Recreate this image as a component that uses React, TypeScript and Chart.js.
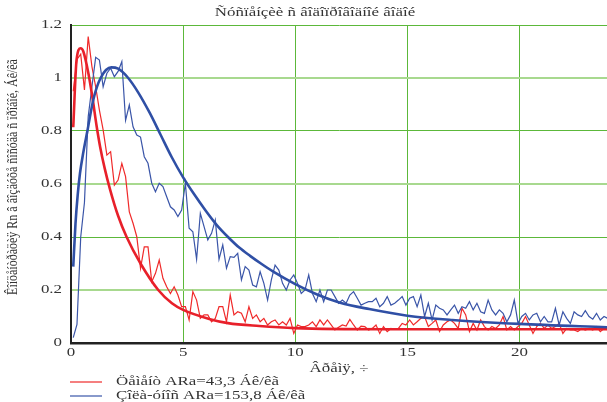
import React, { useEffect, useRef } from "react";
import { Chart, registerables } from "chart.js";

Chart.register(...registerables);

const TITLE = "Ñóñïåíçèè ñ âîäîïðîâîäíîé âîäîé";
const X_TITLE = "Âðåìÿ, ÷";
const Y_TITLE = "Êîíöåíòðàöèÿ Rn â âîçäóõå ñîñóäà ñ ïðîáîé, Áê/êã";
const LEGEND_RED = "Öåìåíò ARa=43,3 Áê/êã";
const LEGEND_BLUE = "Çîëà-óíîñ ARa=153,8 Áê/êã";

const X_TICKS = [0, 5, 10, 15, 20];
const Y_TICKS = [0, 0.2, 0.4, 0.6, 0.8, 1, 1.2];

// measured series, sampled every 10 min starting at T0 (hours)
const T0 = 0.1;
const STEP = 1 / 6;

const RED_MEAS = [
  0.95, 1.07, 1.09, 0.955, 1.156, 1.043, 0.967, 0.879, 0.804, 0.709,
  0.722, 0.596, 0.615, 0.678, 0.628, 0.495, 0.452, 0.401, 0.282, 0.363,
  0.363, 0.231, 0.263, 0.313, 0.244, 0.212, 0.187, 0.212, 0.181, 0.137,
  0.137, 0.087, 0.194, 0.162, 0.093, 0.106, 0.106, 0.08, 0.093, 0.137,
  0.137, 0.08, 0.181, 0.106, 0.118, 0.112, 0.08, 0.137, 0.093, 0.106,
  0.08, 0.093, 0.068, 0.08, 0.087, 0.068, 0.08, 0.068, 0.093, 0.036,
  0.068, 0.062, 0.062, 0.068, 0.08, 0.062, 0.087, 0.068, 0.087, 0.068,
  0.049, 0.059, 0.068, 0.064, 0.089, 0.068, 0.049, 0.064, 0.062, 0.049,
  0.055, 0.068, 0.036, 0.062, 0.043, 0.055, 0.052, 0.055, 0.074, 0.068,
  0.087, 0.068, 0.08, 0.093, 0.1, 0.062, 0.074, 0.087, 0.043, 0.068,
  0.08, 0.087, 0.074, 0.055, 0.131, 0.106, 0.043, 0.074, 0.049, 0.087,
  0.062, 0.049, 0.062, 0.055, 0.068, 0.1, 0.049, 0.062, 0.049, 0.062,
  0.074, 0.1, 0.068, 0.036, 0.062, 0.074, 0.055, 0.068, 0.055, 0.062,
  0.074, 0.036, 0.055, 0.049, 0.049, 0.043, 0.055, 0.049, 0.055, 0.049,
  0.062, 0.043, 0.055, 0.049,
];

const BLUE_MEAS = [
  0.02, 0.07, 0.4, 0.53, 0.854, 0.967, 1.078, 1.068, 0.967, 1.018,
  1.037, 1.005, 1.025, 1.062, 0.84, 0.898, 0.816, 0.785, 0.777, 0.703,
  0.678, 0.603, 0.571, 0.603, 0.59, 0.552, 0.514, 0.502, 0.477, 0.502,
  0.603, 0.433, 0.42, 0.316, 0.489, 0.439, 0.389, 0.414, 0.464, 0.316,
  0.37, 0.282, 0.326, 0.323, 0.338, 0.238, 0.288, 0.275, 0.219, 0.212,
  0.269, 0.225, 0.162, 0.238, 0.294, 0.275, 0.225, 0.2, 0.238, 0.257,
  0.225, 0.187, 0.2, 0.257, 0.187, 0.156, 0.2, 0.156, 0.2, 0.2,
  0.175, 0.15, 0.162, 0.15, 0.181, 0.194, 0.169, 0.143, 0.15, 0.156,
  0.156, 0.169, 0.137, 0.15, 0.175, 0.143, 0.15, 0.162, 0.175, 0.143,
  0.169, 0.175, 0.137, 0.181, 0.1, 0.15, 0.087, 0.143, 0.131, 0.125,
  0.106, 0.125, 0.143, 0.112, 0.137, 0.131, 0.156, 0.125, 0.15, 0.118,
  0.112, 0.162, 0.125, 0.106, 0.125, 0.112, 0.08, 0.106, 0.162, 0.074,
  0.1, 0.112, 0.087, 0.106, 0.112, 0.08, 0.1, 0.08, 0.08, 0.131,
  0.068, 0.118, 0.093, 0.074, 0.118, 0.106, 0.1, 0.122, 0.1, 0.09,
  0.112, 0.087, 0.1, 0.093,
];

// fitted curves
const RED_FIT_T = [0.1, 0.25, 0.43, 0.55, 0.77, 0.95, 1.14, 1.3, 1.5, 1.74, 2.1, 2.48, 3.1, 3.89, 4.5, 5.0, 6.2, 7.0, 8.4, 10, 14, 24];
const RED_FIT = [0.814, 1.07, 1.112, 1.1, 1.02, 0.93, 0.82, 0.74, 0.66, 0.58, 0.48, 0.4, 0.3, 0.2, 0.15, 0.125, 0.09, 0.075, 0.064, 0.056, 0.052, 0.052];

const BLUE_FIT_T = [0.1, 0.2, 0.3, 0.4, 0.55, 0.73, 1.0, 1.32, 1.8, 2.1, 2.55, 3.0, 3.5, 4.0, 4.5, 5.0, 5.5, 6.0, 6.5, 7.0, 7.5, 8.0, 8.5, 9, 10, 11, 12, 13.3, 15, 17, 20, 24];
const BLUE_FIT = [0.288, 0.45, 0.56, 0.64, 0.72, 0.8, 0.92, 1.0, 1.04, 1.035, 1.0, 0.945, 0.87, 0.785, 0.7, 0.625, 0.56, 0.5, 0.445, 0.4, 0.36, 0.328, 0.298, 0.27, 0.222, 0.182, 0.152, 0.128, 0.103, 0.087, 0.072, 0.059];

const X_MAX = 23.9;
const SERIF = "'Liberation Serif', 'Times New Roman', serif";
const TEXT_COLOR = "#333";
const STRETCH = 1.3;

const toPoints = (xs: number[], ys: number[]) => ys.map((y, i) => ({ x: xs[i], y }));
const TIMES = RED_MEAS.map((_, i) => +(T0 + i * STEP).toFixed(4));

function stretchedText(
  ctx: CanvasRenderingContext2D,
  text: string,
  x: number,
  y: number,
  align: "left" | "center" | "right",
  size = 13
) {
  ctx.save();
  ctx.font = `${size}px ${SERIF}`;
  ctx.fillStyle = TEXT_COLOR;
  ctx.textBaseline = "middle";
  ctx.textAlign = align;
  ctx.translate(x, y);
  ctx.scale(STRETCH, 1);
  ctx.fillText(text, 0, 0);
  ctx.restore();
}

export default function App() {
  const ref = useRef<HTMLCanvasElement | null>(null);

  useEffect(() => {
    if (!ref.current) return;

    const textPlugin = {
      id: "texts",
      afterDraw(chart: any) {
        const ctx = chart.ctx as CanvasRenderingContext2D;
        const xs = chart.scales.x;
        const ys = chart.scales.y;
        // tick labels from the library's scales
        for (const t of xs.ticks) {
          stretchedText(ctx, String(t.value), xs.getPixelForValue(t.value), 353, "center");
        }
        for (const t of ys.ticks) {
          const lbl = String(+Number(t.value).toFixed(1));
          stretchedText(ctx, lbl, 62, ys.getPixelForValue(t.value), "right");
        }
        // titles
        stretchedText(ctx, TITLE, 315, 13, "center");
        stretchedText(ctx, X_TITLE, 339, 369, "center");
        // y title (rotated)
        ctx.save();
        ctx.translate(13, 177);
        ctx.rotate(-Math.PI / 2);
        ctx.scale(1, 1.2);
        ctx.font = `12px ${SERIF}`;
        ctx.fillStyle = TEXT_COLOR;
        ctx.textAlign = "center";
        ctx.textBaseline = "middle";
        ctx.fillText(Y_TITLE, 0, 0, 236);
        ctx.restore();
        // legend
        const rows = [
          { text: LEGEND_RED, color: "#ee2a2a", y: 382 },
          { text: LEGEND_BLUE, color: "#3a55a8", y: 396 },
        ];
        for (const r of rows) {
          ctx.save();
          ctx.strokeStyle = r.color;
          ctx.lineWidth = 1.2;
          ctx.beginPath();
          ctx.moveTo(70, r.y);
          ctx.lineTo(102, r.y);
          ctx.stroke();
          ctx.restore();
          stretchedText(ctx, r.text, 116, r.y, "left");
        }
      },
    };

    const chart = new Chart(ref.current, {
      type: "line",
      data: {
        datasets: [
          {
            label: LEGEND_RED,
            data: toPoints(TIMES, RED_MEAS),
            borderColor: "#f02a2a",
            borderWidth: 1.2,
            pointRadius: 0,
            tension: 0,
            order: 4,
          },
          {
            label: LEGEND_BLUE,
            data: toPoints(TIMES, BLUE_MEAS),
            borderColor: "#3a55a8",
            borderWidth: 1.2,
            pointRadius: 0,
            tension: 0,
            order: 3,
          },
          {
            label: "fit red",
            data: toPoints(RED_FIT_T, RED_FIT),
            borderColor: "#e8202a",
            borderWidth: 2.6,
            pointRadius: 0,
            cubicInterpolationMode: "monotone",
            order: 2,
          },
          {
            label: "fit blue",
            data: toPoints(BLUE_FIT_T, BLUE_FIT),
            borderColor: "#2f4fa5",
            borderWidth: 2.6,
            pointRadius: 0,
            cubicInterpolationMode: "monotone",
            order: 1,
          },
        ],
      },
      options: {
        responsive: false,
        animation: false,
        devicePixelRatio: 1,
        layout: { padding: { top: 25, right: 0, bottom: 0, left: 0 } },
        plugins: {
          legend: { display: false },
          title: { display: false },
          tooltip: { enabled: false },
        },
        scales: {
          x: {
            type: "linear",
            min: 0,
            max: X_MAX,
            afterFit: (s: any) => {
              s.height = 59;
            },
            afterBuildTicks: (s: any) => {
              s.ticks = X_TICKS.map((v) => ({ value: v }));
            },
            ticks: { display: false, includeBounds: false },
            grid: { color: "#5cb83a", lineWidth: 1, drawTicks: false },
            border: { color: "#222", width: 2.5 },
          },
          y: {
            type: "linear",
            min: 0,
            max: 1.2,
            afterFit: (s: any) => {
              s.width = 71;
            },
            afterBuildTicks: (s: any) => {
              s.ticks = Y_TICKS.map((v) => ({ value: v }));
            },
            ticks: { display: false },
            grid: {
              color: (c: any) => {
                const k = Math.round((c.tick?.value ?? 0) * 10);
                return k === 2 || k === 6 || k === 10 ? "#a8d98f" : "#5cb83a";
              },
              lineWidth: (c: any) => {
                const k = Math.round((c.tick?.value ?? 0) * 10);
                return k === 2 || k === 6 || k === 10 ? 2 : 1;
              },
              drawTicks: false,
            },
            border: { color: "#222", width: 2 },
          },
        },
      },
      plugins: [textPlugin],
    } as any);

    return () => chart.destroy();
  }, []);

  return (
    <div style={{ position: "absolute", left: 0, top: 0, width: 607, height: 402, background: "#fff" }}>
      <canvas ref={ref} width={607} height={402} style={{ display: "block" }} />
    </div>
  );
}
